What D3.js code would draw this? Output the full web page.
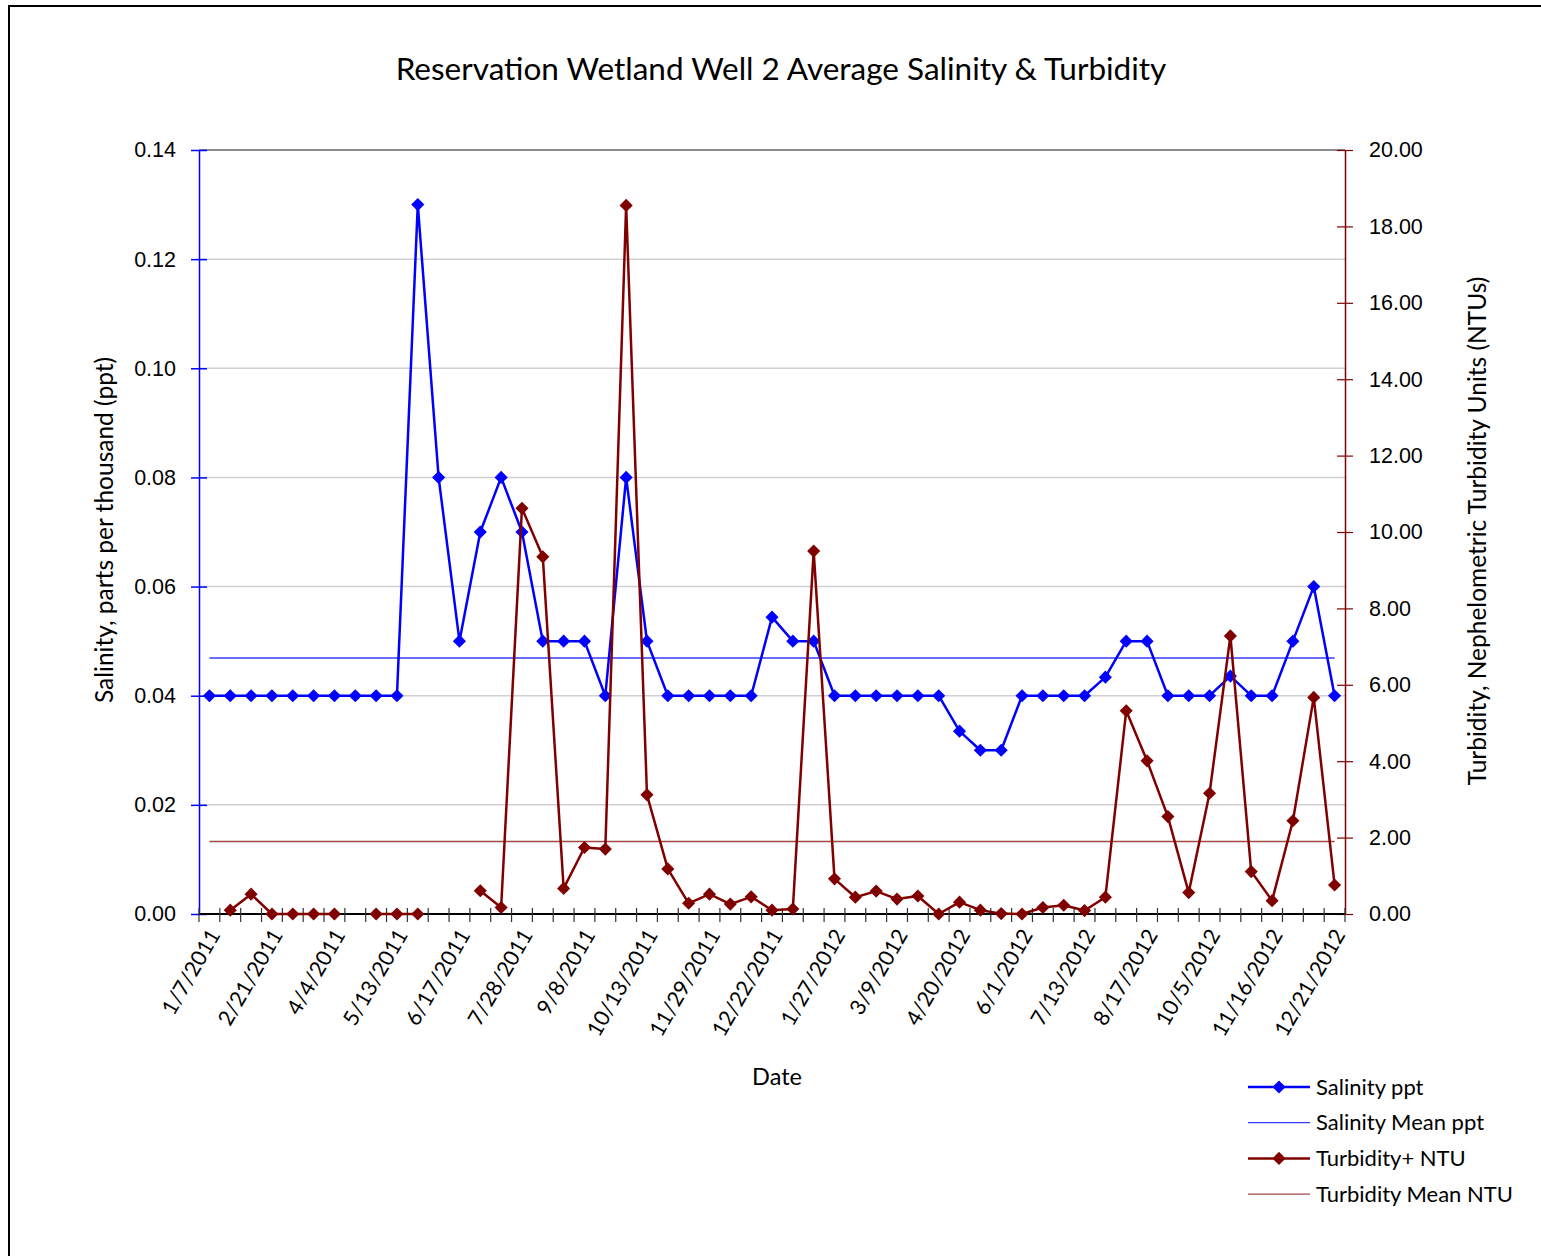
<!DOCTYPE html>
<html>
<head>
<meta charset="utf-8">
<script src="https://cdn.jsdelivr.net/npm/d3@7"></script>
<style>
  body { margin: 0; background: #fff; }
  svg { font-family: Lato, 'Open Sans', sans-serif; }
</style>
</head>
<body>
<svg id="chart" width="1541" height="1256"></svg>
<script>
// tick labels, one every 3rd sample
const tickLabels = ['1/7/2011', '2/21/2011', '4/4/2011', '5/13/2011', '6/17/2011', '7/28/2011',
  '9/8/2011', '10/13/2011', '11/29/2011', '12/22/2011', '1/27/2012', '3/9/2012', '4/20/2012',
  '6/1/2012', '7/13/2012', '8/17/2012', '10/5/2012', '11/16/2012', '12/21/2012']

// salinity, ppt (55 samples)
const salinity = [0.04, 0.04, 0.04, 0.04, 0.04, 0.04, 0.04, 0.04, 0.04, 0.04,
  0.13, 0.08, 0.05, 0.07, 0.08, 0.07, 0.05, 0.05, 0.05, 0.04,
  0.08, 0.05, 0.04, 0.04, 0.04, 0.04, 0.04, 0.0544, 0.05, 0.05,
  0.04, 0.04, 0.04, 0.04, 0.04, 0.04, 0.0335, 0.03, 0.03, 0.04,
  0.04, 0.04, 0.04, 0.0434, 0.05, 0.05, 0.04, 0.04, 0.04, 0.0436,
  0.04, 0.04, 0.05, 0.06, 0.04]

// turbidity, NTU (null = no reading)
const turbidity = [null, 0.10, 0.52, 0, 0, 0, 0, null, 0, 0,
  0, null, null, 0.61, 0.17, 10.62, 9.35, 0.67, 1.74, 1.70,
  18.55, 3.12, 1.18, 0.28, 0.52, 0.26, 0.45, 0.10, 0.13, 9.50,
  0.92, 0.44, 0.60, 0.39, 0.47, 0, 0.31, 0.10, 0.01, 0,
  0.17, 0.23, 0.09, 0.44, 5.32, 4.01, 2.55, 0.56, 3.16, 7.28,
  1.11, 0.35, 2.44, 5.67, 0.76]

const salinityMean = 0.0469
const turbidityMean = 1.90

const leftTicks = [0, 0.02, 0.04, 0.06, 0.08, 0.10, 0.12, 0.14]
const rightTicks = [0, 2, 4, 6, 8, 10, 12, 14, 16, 18, 20]

const BLUE = '#0000ff'
const RED = '#800000'

const svg = d3.select('#chart')
const plot = { left: 199, top: 150, right: 1345, bottom: 914 }

// outer frame
svg.append('rect')
  .attr('x', 9).attr('y', 6)
  .attr('width', 1560).attr('height', 1280)
  .attr('fill', 'none').attr('stroke', '#000').attr('stroke-width', 2)

const idx = d3.range(salinity.length)
const x = d3.scaleBand().domain(idx).range([plot.left, plot.right]).padding(0)
const cx = i => x(i) + x.bandwidth() / 2

const yL = d3.scaleLinear().domain([0, 0.14]).range([plot.bottom, plot.top])
const yR = d3.scaleLinear().domain([0, 20]).range([plot.bottom, plot.top])

// gridlines
svg.append('g')
  .selectAll('line')
  .data(leftTicks.slice(1, -1))
  .join('line')
  .attr('x1', plot.left).attr('x2', plot.right)
  .attr('y1', d => yL(d)).attr('y2', d => yL(d))
  .attr('stroke', '#d0d0d0').attr('stroke-width', 1.5)

// top border of plot area
svg.append('line')
  .attr('x1', plot.left).attr('x2', plot.right)
  .attr('y1', plot.top).attr('y2', plot.top)
  .attr('stroke', '#8c8c8c').attr('stroke-width', 2)

// left axis
const leftAxis = svg.append('g')
  .attr('transform', `translate(${plot.left},0)`)
  .call(d3.axisLeft(yL).tickValues(leftTicks).tickFormat(d3.format('.2f')).tickSize(8).tickSizeOuter(0))
leftAxis.select('.domain').attr('stroke', BLUE).attr('stroke-width', 1.5)
leftAxis.selectAll('.tick line').attr('stroke', BLUE).attr('stroke-width', 1.5).attr('x2', 8).attr('x1', -8)
leftAxis.selectAll('.tick text')
  .attr('x', -23).attr('fill', '#000')
  .style('font-size', '21.5px')

// right axis
const rightAxis = svg.append('g')
  .attr('transform', `translate(${plot.right},0)`)
  .call(d3.axisRight(yR).tickValues(rightTicks).tickFormat(d3.format('.2f')).tickSize(8).tickSizeOuter(0))
rightAxis.select('.domain').attr('stroke', RED).attr('stroke-width', 1.5)
rightAxis.selectAll('.tick line').attr('stroke', RED).attr('stroke-width', 1.2).attr('x1', -8).attr('x2', 8)
rightAxis.selectAll('.tick text')
  .attr('x', 24).attr('fill', '#000')
  .style('font-size', '21.5px')

// bottom axis: ticks on category boundaries
const bottom = svg.append('g')
bottom.append('line')
  .attr('x1', plot.left).attr('x2', plot.right)
  .attr('y1', plot.bottom).attr('y2', plot.bottom)
  .attr('stroke', '#000').attr('stroke-width', 2)
bottom.selectAll('line.tk')
  .data(d3.range(salinity.length + 1))
  .join('line')
  .attr('class', 'tk')
  .attr('x1', d => plot.left + d * x.bandwidth())
  .attr('x2', d => plot.left + d * x.bandwidth())
  .attr('y1', plot.bottom - 6).attr('y2', plot.bottom + 8)
  .attr('stroke', '#333').attr('stroke-width', 1.2)

bottom.selectAll('text')
  .data(tickLabels)
  .join('text')
  .attr('transform', (d, i) => `translate(${cx(i * 3) + 5},${plot.bottom + 17}) rotate(-60)`)
  .attr('text-anchor', 'end')
  .attr('dy', '0.35em')
  .style('font-size', '21.5px')
  .text(d => d)

// mean lines
svg.append('line')
  .attr('x1', cx(0)).attr('x2', cx(salinity.length - 1))
  .attr('y1', yL(salinityMean)).attr('y2', yL(salinityMean))
  .attr('stroke', '#3a3aff').attr('stroke-width', 1.5)
svg.append('line')
  .attr('x1', cx(0)).attr('x2', cx(turbidity.length - 1))
  .attr('y1', yR(turbidityMean)).attr('y2', yR(turbidityMean))
  .attr('stroke', '#a04848').attr('stroke-width', 1.5)

const diamond = d3.symbol().type(d3.symbolDiamond2).size(110)

function drawSeries(values, y, color) {
  const line = d3.line()
    .defined(d => d != null)
    .x((d, i) => cx(i))
    .y(d => y(d))
  svg.append('path')
    .datum(values)
    .attr('d', line)
    .attr('fill', 'none')
    .attr('stroke', color)
    .attr('stroke-width', 2.5)
    .attr('stroke-linejoin', 'round')
  svg.append('g')
    .selectAll('path')
    .data(values.map((v, i) => ({ v, i })).filter(d => d.v != null))
    .join('path')
    .attr('d', diamond)
    .attr('transform', d => `translate(${cx(d.i)},${y(d.v)})`)
    .attr('fill', color)
}

drawSeries(salinity, yL, BLUE)
drawSeries(turbidity, yR, RED)

// title and axis titles
svg.append('text')
  .attr('x', 781).attr('y', 80)
  .attr('text-anchor', 'middle')
  .style('font-size', '31.5px')
  .text('Reservation Wetland Well 2 Average Salinity & Turbidity')

svg.append('text')
  .attr('transform', 'translate(113,530) rotate(-90)')
  .attr('text-anchor', 'middle')
  .style('font-size', '24.5px')
  .text('Salinity, parts per thousand (ppt)')

svg.append('text')
  .attr('transform', 'translate(1486,531) rotate(-90)')
  .attr('text-anchor', 'middle')
  .style('font-size', '24.5px')
  .text('Turbidity, Nephelometric Turbidity Units (NTUs)')

svg.append('text')
  .attr('x', 777).attr('y', 1085)
  .attr('text-anchor', 'middle')
  .style('font-size', '23.5px')
  .text('Date')

// legend
const legendItems = [
  { name: 'Salinity ppt', color: BLUE, width: 2.5, marker: true },
  { name: 'Salinity Mean ppt', color: '#3a3aff', width: 1.2, marker: false },
  { name: 'Turbidity+ NTU', color: RED, width: 2.5, marker: true },
  { name: 'Turbidity Mean NTU', color: '#a04848', width: 1.2, marker: false }
]
const legend = svg.append('g').attr('transform', 'translate(1248,1087)')
const rows = legend.selectAll('g')
  .data(legendItems)
  .join('g')
  .attr('transform', (d, i) => `translate(0,${i * 35.7})`)
rows.append('line')
  .attr('x1', 0).attr('x2', 62)
  .attr('stroke', d => d.color).attr('stroke-width', d => d.width)
rows.filter(d => d.marker).append('path')
  .attr('d', diamond)
  .attr('transform', 'translate(31,0)')
  .attr('fill', d => d.color)
rows.append('text')
  .attr('x', 68).attr('dy', '0.35em')
  .style('font-size', '22px')
  .text(d => d.name)
</script>
</body>
</html>
